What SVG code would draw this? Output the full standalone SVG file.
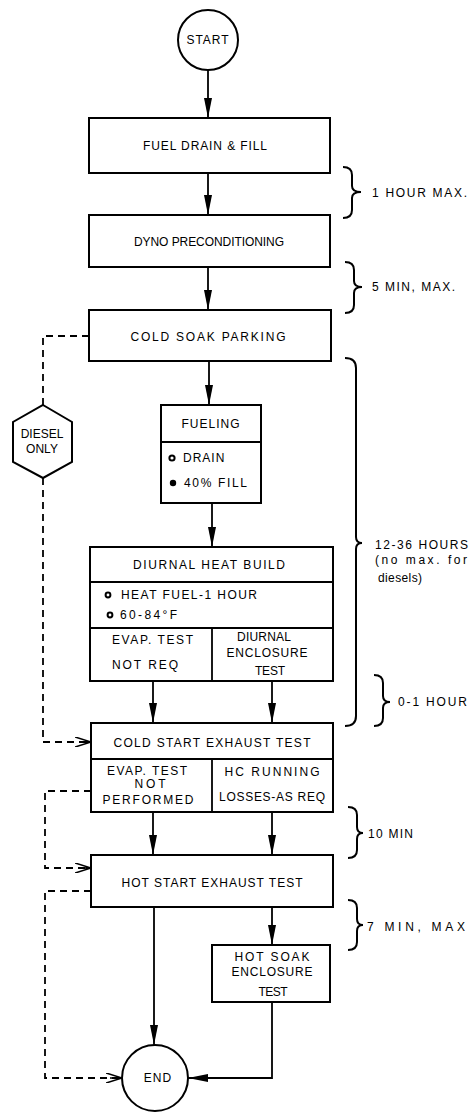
<svg xmlns="http://www.w3.org/2000/svg" width="470" height="1113" viewBox="0 0 470 1113">
<style>
.box{fill:#fff;stroke:#000;stroke-width:2}
.ln{fill:none;stroke:#000;stroke-width:1.8}
.dash{fill:none;stroke:#000;stroke-width:1.8;stroke-dasharray:7,5}
.br{fill:none;stroke:#000;stroke-width:2}
text{font-family:"Liberation Sans",Arial,sans-serif;font-size:12px;fill:#000}
.c{text-anchor:middle}
.side{font-size:12px}
.lc{font-size:12px;letter-spacing:1px}
</style>
<defs>
<marker id="ah" viewBox="0 0 20 8" refX="20" refY="4" markerWidth="20" markerHeight="8" markerUnits="userSpaceOnUse" orient="auto">
<path d="M0,0 L20,4 L0,8 Z" fill="#000"/>
</marker>
<marker id="oh" viewBox="0 0 16 10" refX="16" refY="5" markerWidth="16" markerHeight="10" markerUnits="userSpaceOnUse" orient="auto">
<path d="M0,0 L16,5 L0,10 M4,5 L16,5" fill="none" stroke="#000" stroke-width="1.6"/>
</marker>
</defs>

<g id="connectors">
<line class="ln" x1="208" y1="70" x2="208" y2="118" marker-end="url(#ah)"/>
<line class="ln" x1="208" y1="173" x2="208" y2="215" marker-end="url(#ah)"/>
<line class="ln" x1="208" y1="267" x2="208" y2="310" marker-end="url(#ah)"/>
<line class="ln" x1="209" y1="361" x2="209" y2="405" marker-end="url(#ah)"/>
<line class="ln" x1="212" y1="503" x2="212" y2="547" marker-end="url(#ah)"/>
<line class="ln" x1="153" y1="681" x2="153" y2="723" marker-end="url(#ah)"/>
<line class="ln" x1="272" y1="681" x2="272" y2="723" marker-end="url(#ah)"/>
<line class="ln" x1="153" y1="812" x2="153" y2="855" marker-end="url(#ah)"/>
<line class="ln" x1="272" y1="812" x2="272" y2="855" marker-end="url(#ah)"/>
<line class="ln" x1="272" y1="907" x2="272" y2="945" marker-end="url(#ah)"/>
<line class="ln" x1="154" y1="907" x2="154" y2="1045" marker-end="url(#ah)"/>
<polyline class="ln" points="272,1002 272,1078 188,1078" marker-end="url(#ah)"/>
<polyline class="dash" points="89,336 43,336 43,405"/>
<polyline class="dash" points="43,478 43,742 91,742" marker-end="url(#oh)"/>
<polyline class="dash" points="91,791 45,791 45,868 91,868" marker-end="url(#oh)"/>
<polyline class="dash" points="91,891 45,891 45,1078 122,1078" marker-end="url(#oh)"/>
</g>

<g id="start">
<circle class="box" cx="208" cy="40" r="30"/>
<text class="c lc" x="208" y="44">START</text>
</g>

<g id="fuel-drain-fill">
<rect class="box" x="89" y="118" width="241" height="55"/>
<text class="c" x="205" y="150" textLength="124" lengthAdjust="spacing">FUEL DRAIN &amp; FILL</text>
</g>

<g id="dyno">
<rect class="box" x="89" y="215" width="241" height="52"/>
<text class="c" x="209" y="246" textLength="150" lengthAdjust="spacing">DYNO PRECONDITIONING</text>
</g>

<g id="cold-soak">
<rect class="box" x="89" y="310" width="242" height="51"/>
<text class="c" x="208" y="341" textLength="155" lengthAdjust="spacing">COLD SOAK PARKING</text>
</g>

<g id="diesel-only">
<polygon class="box" points="43,405 72,422 72,462 43,478 13,462 13,422"/>
<text class="c" x="42" y="438">DIESEL</text>
<text class="c" x="42" y="453">ONLY</text>
</g>

<g id="fueling">
<rect class="box" x="161" y="405" width="100" height="98"/>
<line class="ln" x1="161" y1="442" x2="261" y2="442"/>
<text class="c lc" x="211" y="428">FUELING</text>
<circle cx="172" cy="458" r="2.6" fill="none" stroke="#000" stroke-width="2"/>
<text class="lc" x="183" y="462">DRAIN</text>
<circle cx="173" cy="483" r="3.2" fill="#000"/>
<text x="184" y="487" textLength="63" lengthAdjust="spacing">40% FILL</text>
</g>

<g id="diurnal">
<rect class="box" x="90" y="547" width="243" height="134"/>
<line class="ln" x1="90" y1="582" x2="333" y2="582"/>
<line class="ln" x1="90" y1="628" x2="333" y2="628"/>
<line class="ln" x1="212" y1="628" x2="212" y2="681"/>
<text class="c" x="209" y="569" textLength="152" lengthAdjust="spacing">DIURNAL HEAT BUILD</text>
<circle cx="108" cy="595" r="2.4" fill="none" stroke="#000" stroke-width="2"/>
<text x="121" y="599" textLength="136" lengthAdjust="spacing">HEAT FUEL-1 HOUR</text>
<circle cx="110" cy="615" r="2.4" fill="none" stroke="#000" stroke-width="2"/>
<text x="120" y="619" textLength="57" lengthAdjust="spacing">60-84°F</text>
<text x="112" y="644" textLength="81" lengthAdjust="spacing">EVAP. TEST</text>
<text x="112" y="669" textLength="66" lengthAdjust="spacing">NOT REQ</text>
<text class="c" x="264" y="641" textLength="54" lengthAdjust="spacing">DIURNAL</text>
<text class="c" x="267" y="657" textLength="81" lengthAdjust="spacing">ENCLOSURE</text>
<text class="c" x="270" y="675" textLength="30" lengthAdjust="spacing">TEST</text>
</g>

<g id="cold-start">
<rect class="box" x="91" y="723" width="242" height="89"/>
<line class="ln" x1="91" y1="759" x2="333" y2="759"/>
<line class="ln" x1="212" y1="759" x2="212" y2="812"/>
<text class="c" x="212" y="747" textLength="197" lengthAdjust="spacing">COLD START EXHAUST TEST</text>
<text class="c" x="147" y="775" textLength="80" lengthAdjust="spacing">EVAP. TEST</text>
<text class="c" x="150" y="788" textLength="31" lengthAdjust="spacing">NOT</text>
<text class="c" x="148" y="804" textLength="91" lengthAdjust="spacing">PERFORMED</text>
<text class="c" x="272" y="776" textLength="95" lengthAdjust="spacing">HC RUNNING</text>
<text class="c" x="272" y="801" textLength="106" lengthAdjust="spacing">LOSSES-AS REQ</text>
</g>

<g id="hot-start">
<rect class="box" x="91" y="855" width="242" height="52"/>
<text class="c" x="212" y="887" textLength="181" lengthAdjust="spacing">HOT START EXHAUST TEST</text>
</g>

<g id="hot-soak">
<rect class="box" x="212" y="945" width="118" height="57"/>
<text class="c" x="272" y="961" textLength="75" lengthAdjust="spacing">HOT SOAK</text>
<text class="c" x="272" y="976" textLength="81" lengthAdjust="spacing">ENCLOSURE</text>
<text class="c" x="273" y="996" textLength="29" lengthAdjust="spacing">TEST</text>
</g>

<g id="end">
<circle class="box" cx="155" cy="1078" r="33"/>
<text class="c lc" x="158" y="1082">END</text>
</g>

<g id="braces">
<path class="br" d="M343,167 Q352,167 352,175 L352,186 Q352,192 361,192 Q352,192 352,198 L352,210 Q352,218 343,218"/>
<text class="side" x="372" y="197" textLength="95" lengthAdjust="spacing">1 HOUR MAX.</text>
<path class="br" d="M345,262 Q354,262 354,270 L354,281 Q354,287 362,287 Q354,287 354,293 L354,305 Q354,313 345,313"/>
<text class="side" x="372" y="291" textLength="83" lengthAdjust="spacing">5 MIN, MAX.</text>
<path class="br" d="M345,358 Q356,358 356,368 L356,537 Q356,543 362,543 Q356,543 356,549 L356,716 Q356,726 345,726"/>
<text class="side" x="375" y="549" textLength="93" lengthAdjust="spacing">12-36 HOURS</text>
<text class="side" x="375" y="564" textLength="92" lengthAdjust="spacing">(no max. for</text>
<text class="side" x="378" y="582" textLength="44" lengthAdjust="spacing">diesels)</text>
<path class="br" d="M374,675 Q383,675 383,683 L383,696 Q383,702 390,702 Q383,702 383,708 L383,718 Q383,726 374,726"/>
<text class="side" x="398" y="706" textLength="69" lengthAdjust="spacing">0-1 HOUR</text>
<path class="br" d="M348,807 Q357,807 357,815 L357,827 Q357,833 363,833 Q357,833 357,839 L357,850 Q357,858 348,858"/>
<text class="side" x="368" y="838" textLength="45" lengthAdjust="spacing">10 MIN</text>
<path class="br" d="M348,900 Q357,900 357,908 L357,919 Q357,925 363,925 Q357,925 357,931 L357,942 Q357,950 348,950"/>
<text class="side" x="367" y="931" textLength="98" lengthAdjust="spacing">7 MIN, MAX</text>
</g>
</svg>
